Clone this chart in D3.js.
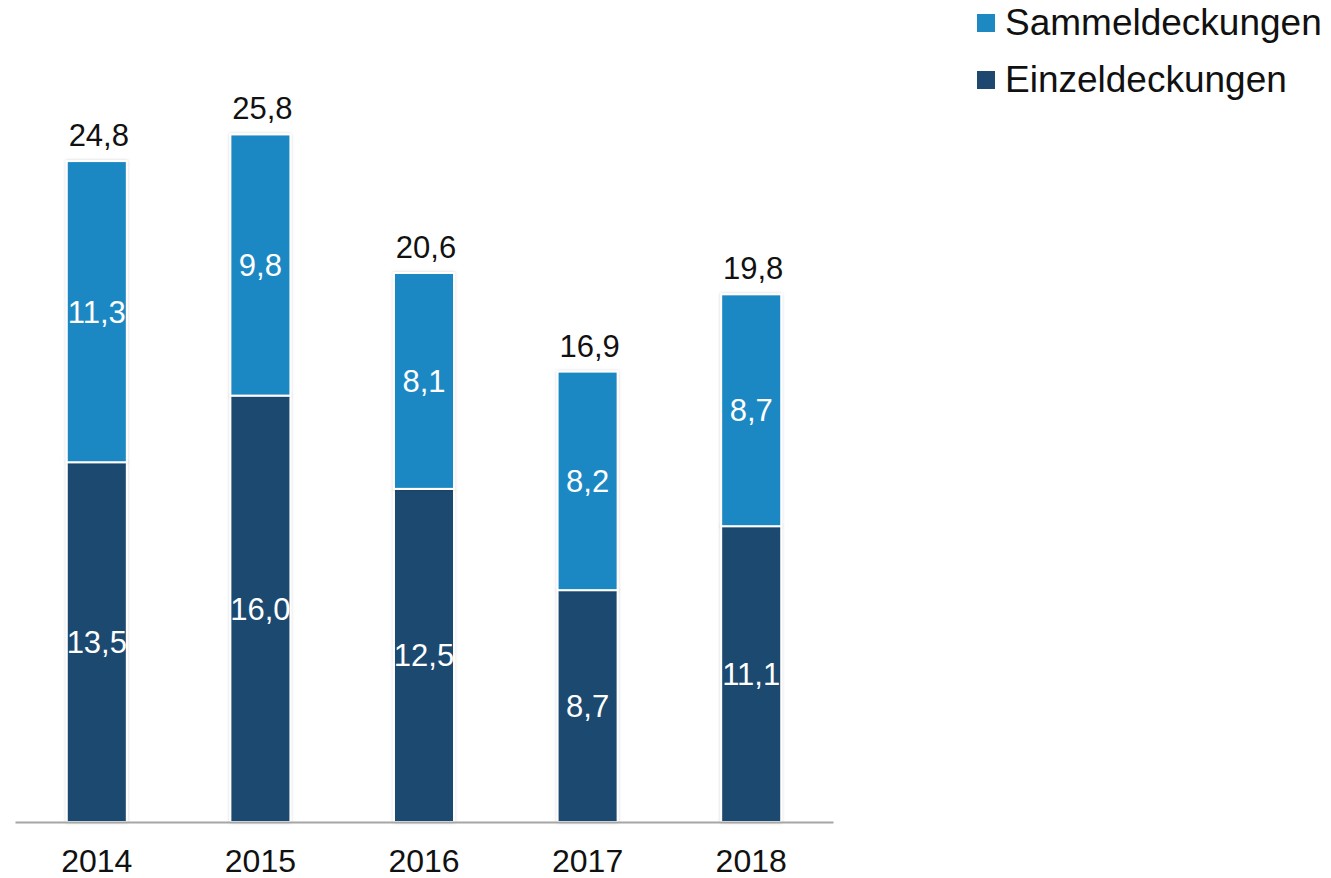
<!DOCTYPE html>
<html>
<head>
<meta charset="utf-8">
<script src="https://cdnjs.cloudflare.com/ajax/libs/d3/7.8.5/d3.min.js"></script>
<style>
  body { margin: 0; background: #fff; }
  text { font-family: Arial, 'Liberation Sans', sans-serif; }
</style>
</head>
<body>
<div id="chartFrame"></div>
<script>
const years = ['2014', '2015', '2016', '2017', '2018']
const einzel = [13.5, 16.0, 12.5, 8.7, 11.1]
const sammel = [11.3, 9.8, 8.1, 8.2, 8.7]
const totals = [24.8, 25.8, 20.6, 16.9, 19.8]
const seriesNames = ['Sammeldeckungen', 'Einzeldeckungen']
const colors = { Einzeldeckungen: '#1f4870', Sammeldeckungen: '#1e88c3' }

const fmt = v => d3.format('.1f')(v).replace('.', ',')

const svg = d3.select('#chartFrame').append('svg')
  .attr('width', 1331)
  .attr('height', 878)

// soft shadow round the bars
const defs = svg.append('defs')
const f = defs.append('filter').attr('id', 'shadow')
  .attr('x', '-20%').attr('y', '-5%').attr('width', '140%').attr('height', '110%')
f.append('feDropShadow').attr('dx', 0).attr('dy', 0).attr('stdDeviation', 1.5)
  .attr('flood-color', '#000').attr('flood-opacity', 0.18)

const xScale = d3.scaleBand()
  .domain(years)
  .range([15, 833])
  .paddingInner(0.633)
  .paddingOuter(0.3165)
const yScale = d3.scaleLinear()
  .domain([0, 30])
  .range([822, 22.5])

const rows = years.map((y, i) => ({ year: y, Einzeldeckungen: einzel[i], Sammeldeckungen: sammel[i], total: totals[i] }))
const stack = d3.stack().keys(['Einzeldeckungen', 'Sammeldeckungen'])(rows)

const g = svg.append('g')
stack.forEach(layer => {
  g.selectAll(`.seg-${layer.key}`)
    .data(layer)
    .enter()
    .append('rect')
    .attr('class', `seg-${layer.key}`)
    .attr('x', d => xScale(d.data.year))
    .attr('width', xScale.bandwidth())
    .attr('y', d => yScale(d[1]))
    .attr('height', d => yScale(d[0]) - yScale(d[1]))
    .style('fill', colors[layer.key])
    .style('stroke', '#fff')
    .style('stroke-width', 2)
    .attr('filter', 'url(#shadow)')

  g.selectAll(`.lab-${layer.key}`)
    .data(layer)
    .enter()
    .append('text')
    .attr('x', d => xScale(d.data.year) + xScale.bandwidth() / 2)
    .attr('y', d => (yScale(d[0]) + yScale(d[1])) / 2 + 11)
    .attr('text-anchor', 'middle')
    .style('fill', '#fff')
    .style('font-size', '31px')
    .text(d => fmt(d.data[layer.key]))
})

// totals on top
g.selectAll('.total')
  .data(rows)
  .enter()
  .append('text')
  .attr('class', 'total')
  .attr('x', d => xScale(d.year) + xScale.bandwidth() / 2 + 2)
  .attr('y', d => yScale(d.total) - 15)
  .attr('text-anchor', 'middle')
  .style('fill', '#111')
  .style('font-size', '31px')
  .text(d => fmt(d.total))

// x axis
const xaxis = svg.append('g')
  .attr('transform', `translate(0, ${yScale(0)})`)
  .call(d3.axisBottom(xScale).tickSize(0).tickPadding(27))
xaxis.select('.domain').attr('stroke', '#a6a6a6').attr('stroke-width', 2)
xaxis.selectAll('text')
  .style('font-size', '32px')
  .style('font-family', 'Arial, "Liberation Sans", sans-serif')
  .style('fill', '#111')

// legend
const legend = svg.append('g').attr('transform', 'translate(977, 0)')
seriesNames.forEach((name, i) => {
  const row = legend.append('g').attr('transform', `translate(0, ${i * 57})`)
  row.append('rect')
    .attr('x', 0).attr('y', 14)
    .attr('width', 18).attr('height', 18)
    .style('fill', colors[name])
  row.append('text')
    .attr('x', 28).attr('y', 35)
    .style('font-size', '37px')
    .style('fill', '#111')
    .text(name)
})
</script>
</body>
</html>
